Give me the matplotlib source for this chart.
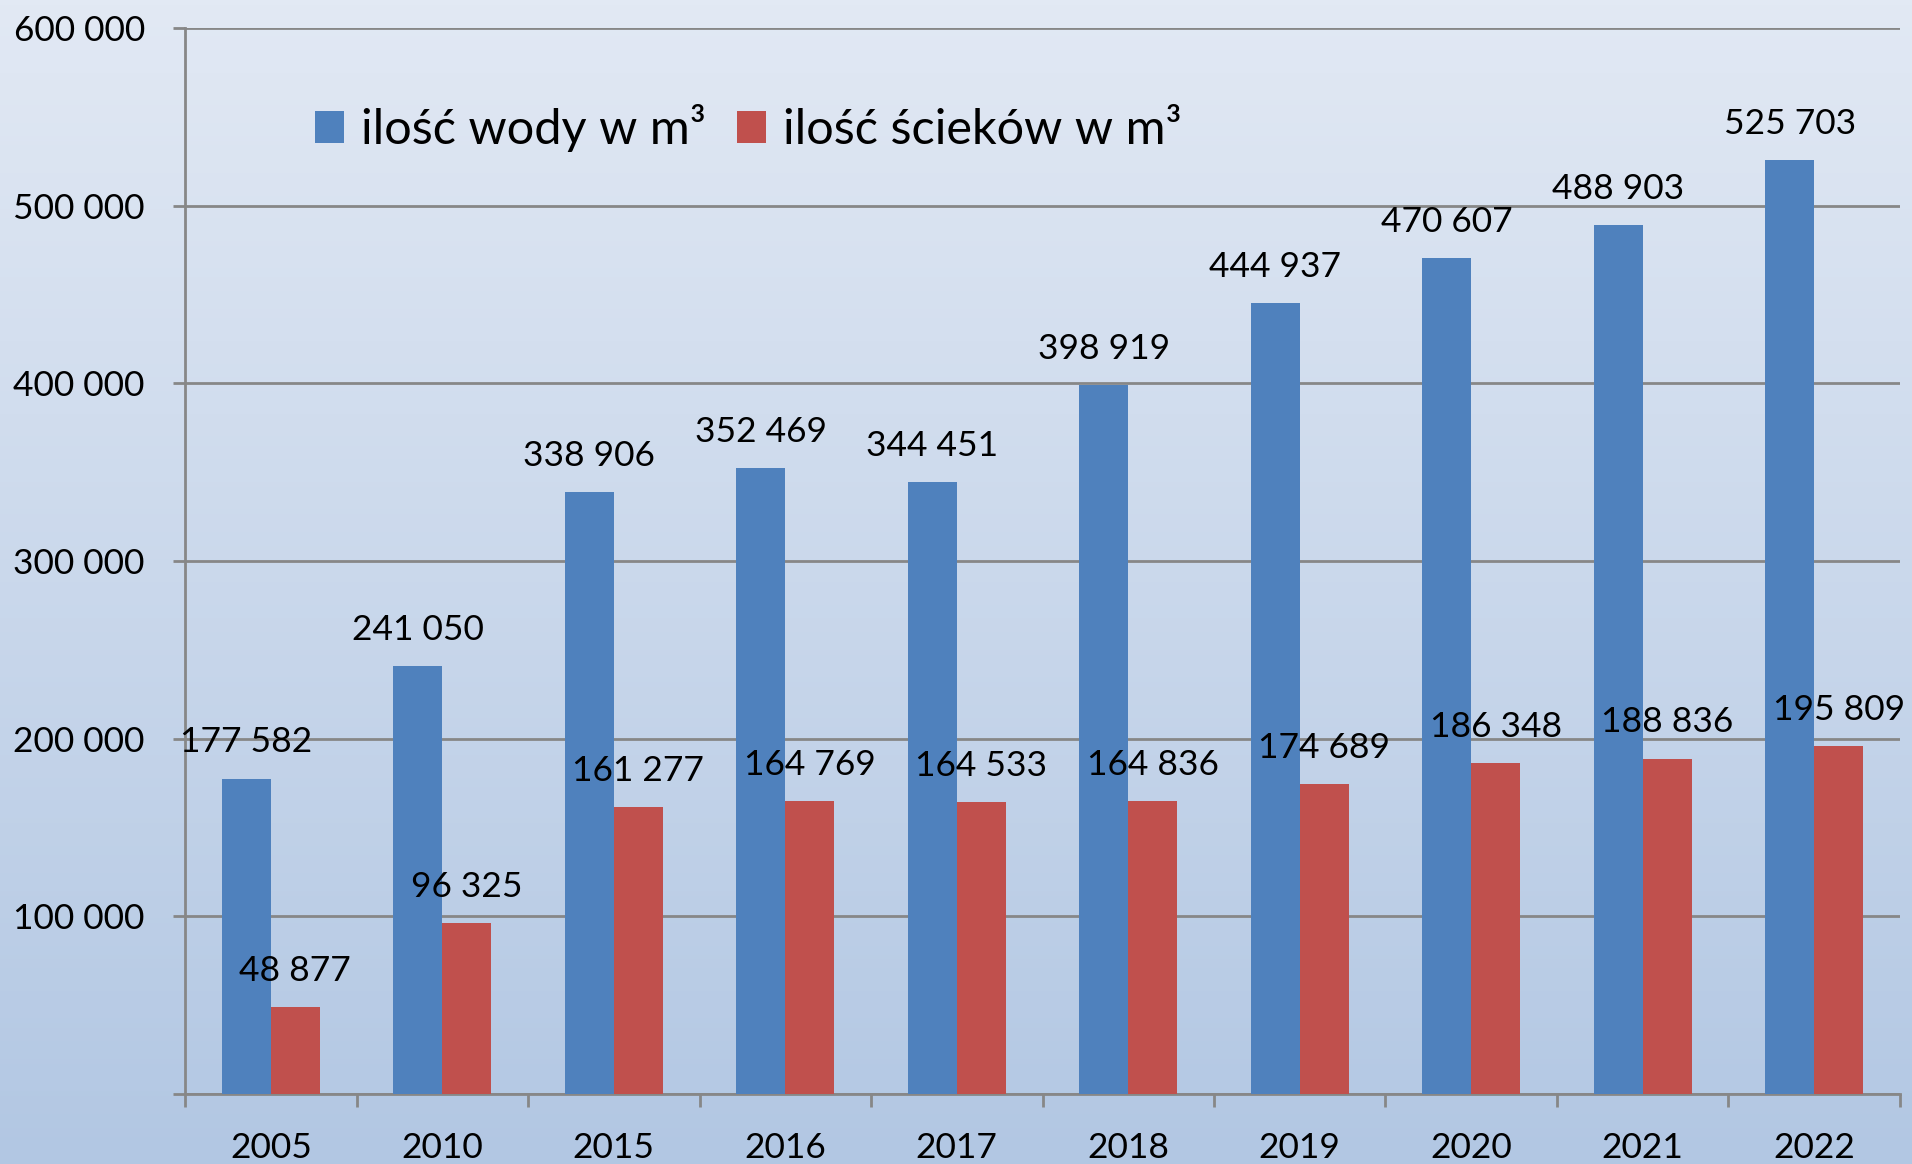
import matplotlib
matplotlib.use("Agg")
import matplotlib.pyplot as plt
import numpy as np

# dane
lata = ["2005", "2010", "2015", "2016", "2017", "2018", "2019", "2020", "2021", "2022"]
woda = [177582, 241050, 338906, 352469, 344451, 398919, 444937, 470607, 488903, 525703]
scieki = [48877, 96325, 161277, 164769, 164533, 164836, 174689, 186348, 188836, 195809]
nazwy_serii = ["ilość wody w m³", "ilość ścieków w m³"]

kolor_woda = "#4f81bd"
kolor_scieki = "#c0504d"
kolor_siatki = "#878787"

plt.rcParams["font.family"] = ["Lato", "DejaVu Sans"]


def fmt(v):
    return f"{v:,}".replace(",", " ")


fig = plt.figure(figsize=(19.12, 11.64), dpi=100)

# tlo z gradientem
tlo = fig.add_axes([0, 0, 1, 1], zorder=-10)
gora = np.array([226, 233, 244]) / 255
dol = np.array([178, 199, 227]) / 255
t = np.linspace(0, 1, 256)[:, None]
grad = gora * (1 - t) + dol * t
tlo.imshow(grad[:, None, :], aspect="auto", extent=[0, 1, 0, 1])
tlo.axis("off")

ax = fig.add_axes([0.0968, 0.0601, 0.8969, 0.9159])
ax.set_facecolor("none")

x = np.arange(len(lata))
szer = 0.2857
s1 = ax.bar(x - szer / 2, woda, szer, color=kolor_woda, label=nazwy_serii[0], zorder=3)
s2 = ax.bar(x + szer / 2, scieki, szer, color=kolor_scieki, label=nazwy_serii[1], zorder=3)

for slupki, wartosci in ((s1, woda), (s2, scieki)):
    for p, v in zip(slupki, wartosci):
        ax.annotate(fmt(v), xy=(p.get_x() + p.get_width() / 2, v),
                    xytext=(0, 26), textcoords="offset points",
                    ha="center", va="center", fontsize=25.5, color="black", zorder=5)

ax.set_xlim(-0.5, len(lata) - 0.5)
ax.set_ylim(0, 600000)
ax.set_yticks(np.arange(0, 600001, 100000))
ax.set_yticklabels([""] + [fmt(v) for v in range(100000, 600001, 100000)])
ax.yaxis.grid(True, color=kolor_siatki, linewidth=2, zorder=1)
ax.set_axisbelow(True)

ax.set_xticks(x)
ax.set_xticklabels(lata)
ax.set_xticks(np.arange(-0.5, len(lata), 1), minor=True)
ax.tick_params(axis="x", which="major", length=0, pad=27, labelsize=25.5)
ax.tick_params(axis="x", which="minor", length=9, width=2, color=kolor_siatki)
ax.tick_params(axis="y", length=9, width=2, color=kolor_siatki, pad=20, labelsize=25.5)

for strona in ("top", "right"):
    ax.spines[strona].set_visible(False)
for strona in ("left", "bottom"):
    ax.spines[strona].set_color(kolor_siatki)
    ax.spines[strona].set_linewidth(2)

ax.legend(loc="center left", bbox_to_anchor=(315 / 1912, 1 - 128 / 1164),
          bbox_transform=fig.transFigure, ncol=2, frameon=False, fontsize=35,
          handlelength=0.6, handleheight=0.62, handletextpad=0.35,
          columnspacing=0.63, borderpad=0, borderaxespad=0)

fig.savefig("out.png", dpi=100)
